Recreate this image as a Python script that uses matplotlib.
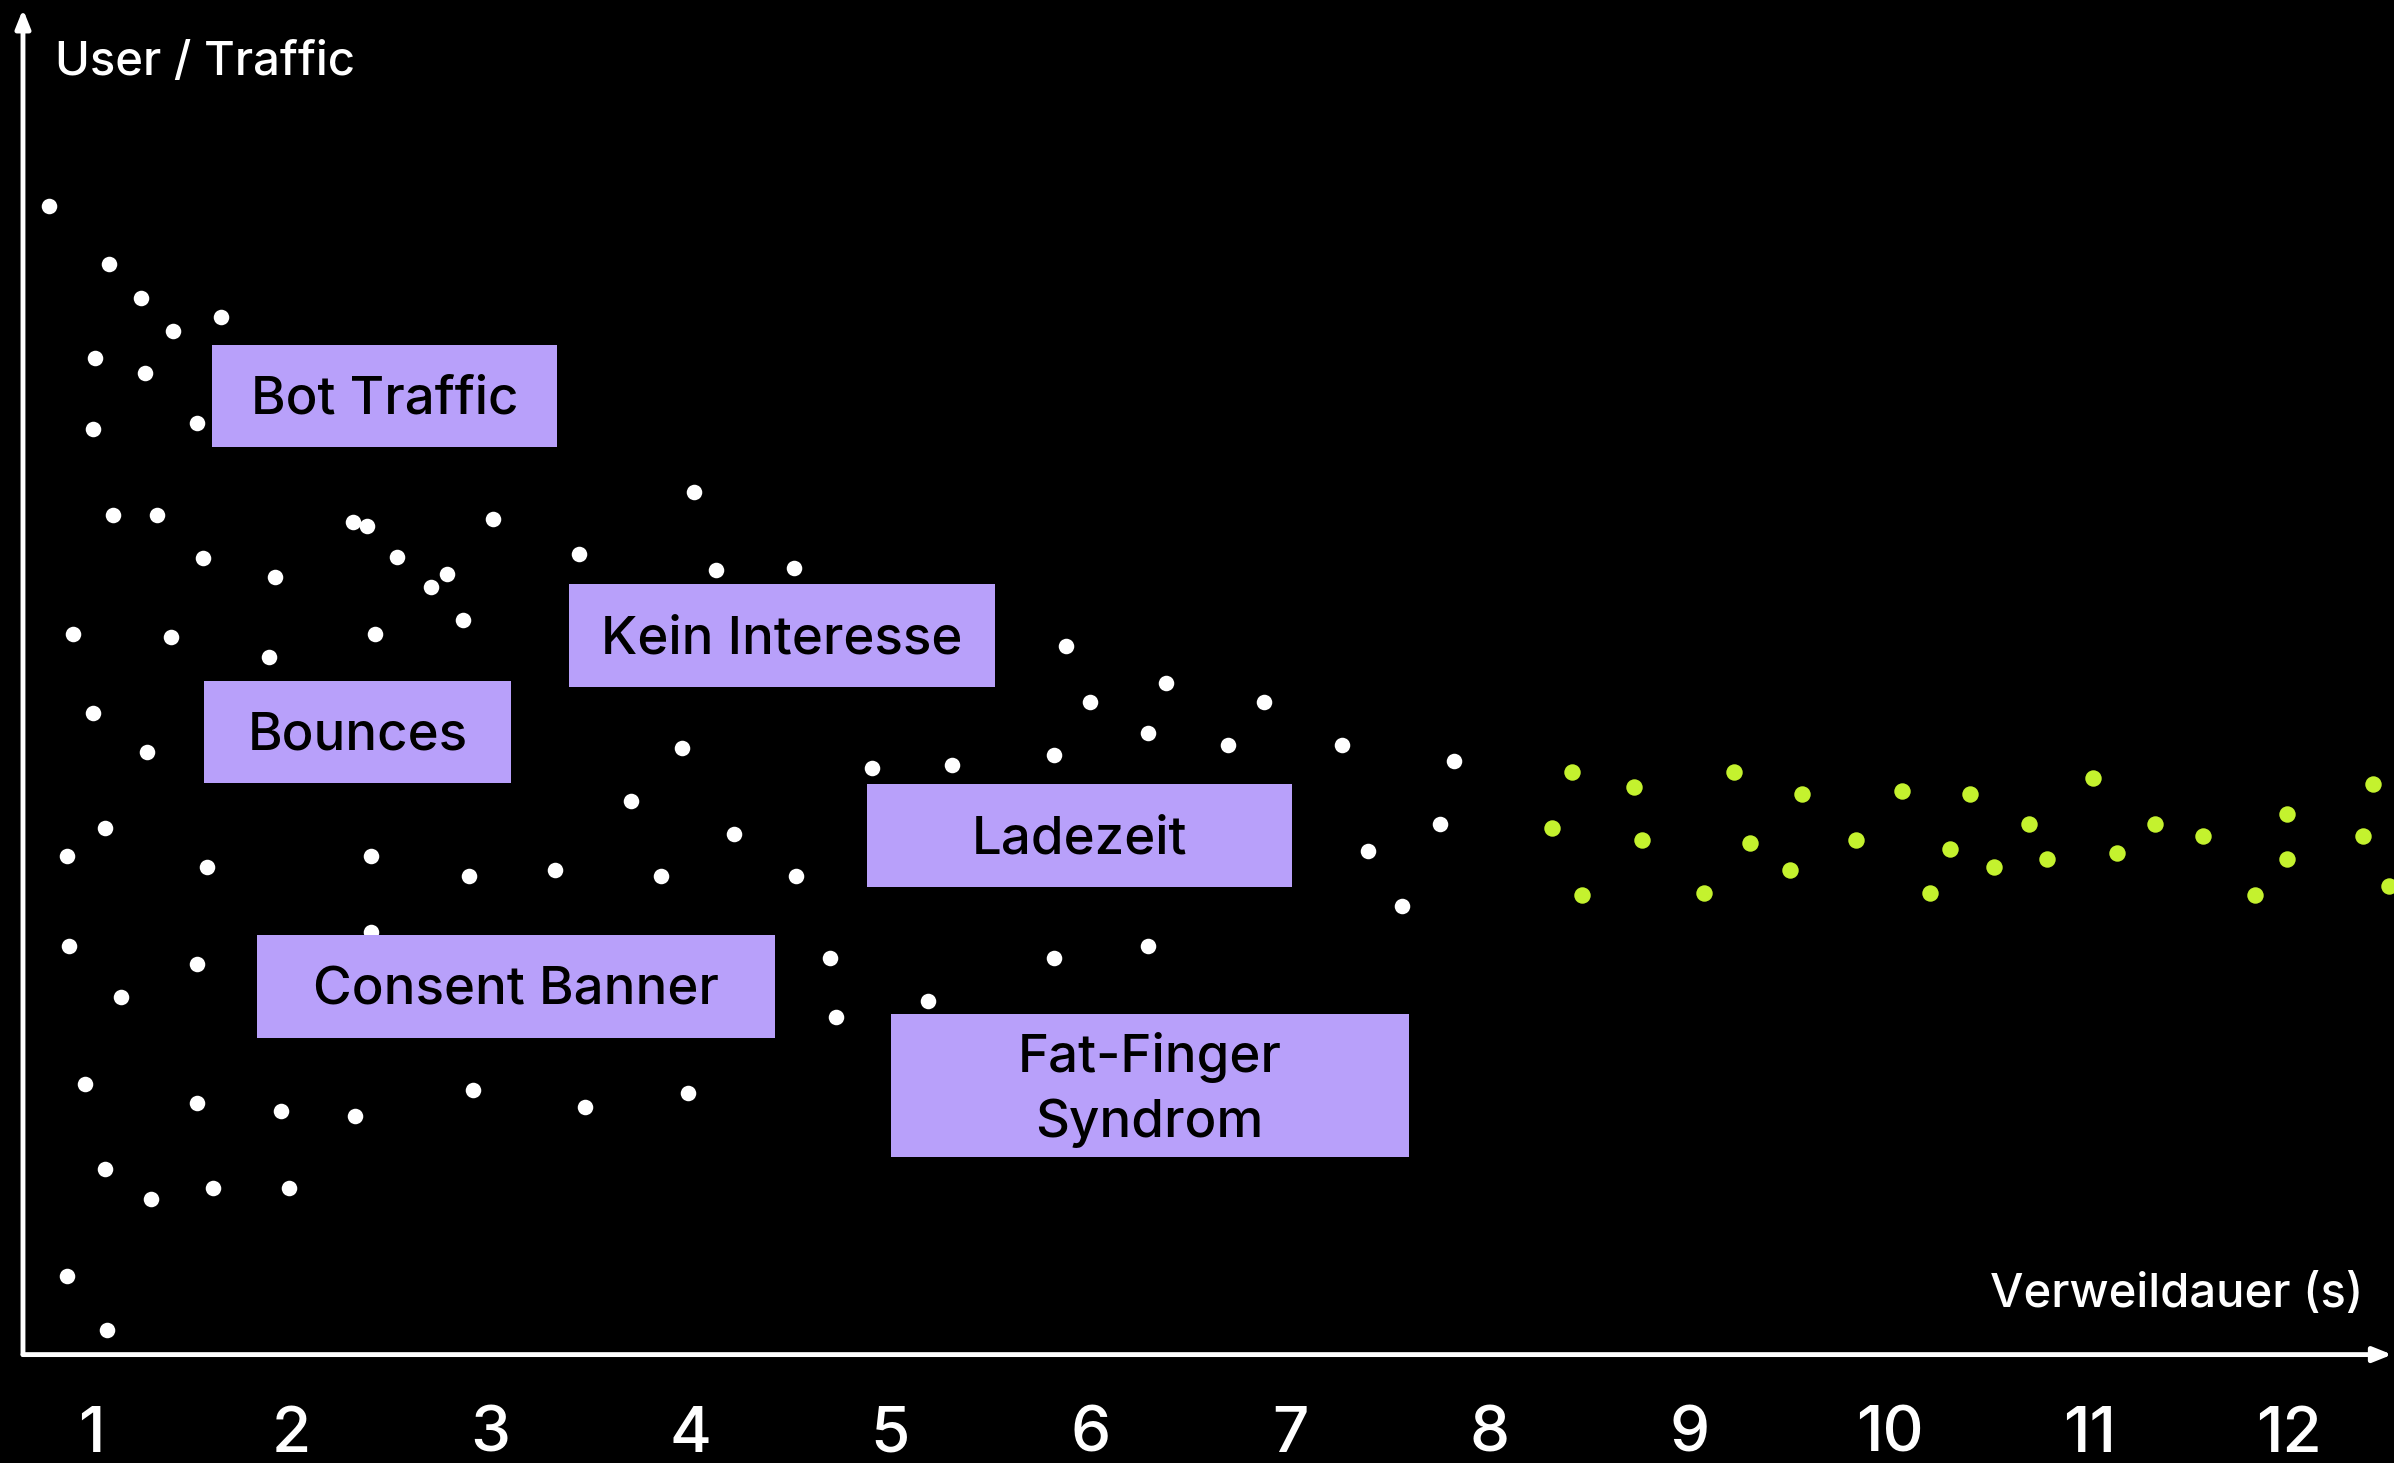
import matplotlib.pyplot as plt
from matplotlib.patches import Rectangle

plt.rcParams['font.family'] = ['Inter', 'DejaVu Sans']

# Data: dwell time (s) vs. users / traffic (arbitrary units)
white_x = [0.79, 1.09, 1.25, 1.41, 1.65, 1.02, 1.27, 1.01, 1.53, 1.11,
           1.33, 1.56, 1.92, 2.31, 2.38, 2.53, 2.70, 2.78, 3.01, 2.86,
           3.44, 4.02, 4.13, 4.52, 0.91, 1.40, 2.42, 1.89, 1.01, 1.28,
           3.96, 3.70, 1.07, 4.22, 0.88, 1.58, 2.40, 2.89, 3.32, 3.85,
           4.53, 0.89, 1.53, 2.40, 1.15, 0.97, 1.53, 1.95, 2.32, 2.91,
           3.47, 3.99, 1.07, 1.30, 1.61, 1.99, 0.88, 1.08, 5.88, 6.38,
           6.00, 6.87, 6.29, 6.69, 7.26, 7.82, 4.91, 5.31, 5.82, 7.75,
           7.39, 7.56, 4.70, 5.82, 6.29, 5.19, 4.73]
white_y = [84.8, 80.5, 78.0, 75.6, 76.6, 73.6, 72.5, 68.3, 68.8, 62.0,
           62.0, 58.8, 57.4, 61.5, 61.2, 58.9, 56.7, 57.6, 61.7, 54.2,
           59.1, 63.7, 57.9, 58.1, 53.2, 53.0, 53.2, 51.5, 47.4, 44.5,
           44.8, 40.9, 38.9, 38.4, 36.8, 36.0, 36.8, 35.3, 35.8, 35.3,
           35.3, 30.2, 28.8, 31.2, 26.4, 20.0, 18.6, 18.0, 17.6, 19.5,
           18.3, 19.3, 13.7, 11.5, 12.3, 12.3, 5.8, 1.8, 52.3, 49.6,
           48.2, 48.2, 45.9, 45.0, 45.0, 43.8, 43.3, 43.5, 44.3, 39.2,
           37.2, 33.1, 29.3, 29.3, 30.2, 26.1, 24.9]

green_x = [8.41, 8.72, 8.31, 8.76, 8.46, 9.22, 9.56, 9.30, 9.50, 9.07,
           10.06, 9.83, 10.40, 10.30, 10.20, 10.70, 10.52, 10.79, 11.02, 11.33,
           11.14, 11.57, 11.99, 11.99, 11.83, 12.42, 12.37, 12.50]
green_y = [43.0, 41.9, 38.9, 38.0, 33.9, 43.0, 41.4, 37.8, 35.8, 34.1,
           41.6, 38.0, 41.4, 37.3, 34.1, 39.2, 36.0, 36.6, 42.6, 39.2,
           37.0, 38.3, 39.9, 36.6, 33.9, 42.1, 38.3, 34.6]

tick_values = list(range(1, 13))
tick_labels = [str(v) for v in tick_values]

# label boxes: text, x0, x1, y0, y1 (data coords)
boxes = [
    ('Bot Traffic', 1.607, 3.334, 66.97, 74.52),
    ('Kein Interesse', 3.391, 5.523, 49.27, 56.88),
    ('Bounces', 1.566, 3.103, 42.18, 49.76),
    ('Consent Banner', 1.832, 4.422, 23.38, 30.94),
    ('Ladezeit', 4.882, 7.012, 34.52, 42.12),
    ('Fat-Finger\nSyndrom', 5.002, 7.593, 14.59, 25.12),
]

box_color = '#b8a0fa'
green = '#c4f22e'

fig = plt.figure(figsize=(23.94, 14.63), dpi=100, facecolor='black')
ax = fig.add_axes([0.0096, 0.0741, 0.9904, 0.9259])
ax.set_facecolor('black')
ax.set_xlim(0.660, 12.524)
ax.set_ylim(0, 100)

ax.scatter(white_x, white_y, s=125, color='white', linewidths=0, zorder=2)
ax.scatter(green_x, green_y, s=140, color=green, linewidths=0, zorder=2)

for label, x0, x1, y0, y1 in boxes:
    ax.add_patch(Rectangle((x0, y0), x1 - x0, y1 - y0, facecolor=box_color,
                           edgecolor='none', zorder=3))
    ax.text((x0 + x1) / 2, (y0 + y1) / 2 - 0.3, label, ha='center',
            va='center', fontsize=38, fontweight='medium', color='black',
            linespacing=1.4, zorder=4)

for s in ax.spines.values():
    s.set_visible(False)

# axis arrows
arrow = dict(arrowstyle='-|>,head_length=0.55,head_width=0.22', color='white',
             lw=3.5, shrinkA=0, shrinkB=0, mutation_scale=20)
ax.annotate('', xy=(0.9992, 0), xytext=(0, 0), xycoords='axes fraction',
            arrowprops=arrow, annotation_clip=False)
ax.annotate('', xy=(0, 0.9932), xytext=(0, 0), xycoords='axes fraction',
            arrowprops=arrow, annotation_clip=False)

ax.set_xticks(tick_values, labels=tick_labels)
ax.set_yticks([])
ax.tick_params(axis='x', length=0, pad=37, labelsize=46, labelcolor='white')
for t in ax.get_xticklabels():
    t.set_fontweight('medium')

ax.text(0.0135, 0.945, 'User / Traffic', transform=ax.transAxes, ha='left',
        va='baseline', fontsize=34, fontweight='medium', color='white')
ax.text(0.987, 0.035, 'Verweildauer (s)', transform=ax.transAxes, ha='right',
        va='baseline', fontsize=34, fontweight='medium', color='white')

fig.savefig('out.png', dpi=100, facecolor='black')
